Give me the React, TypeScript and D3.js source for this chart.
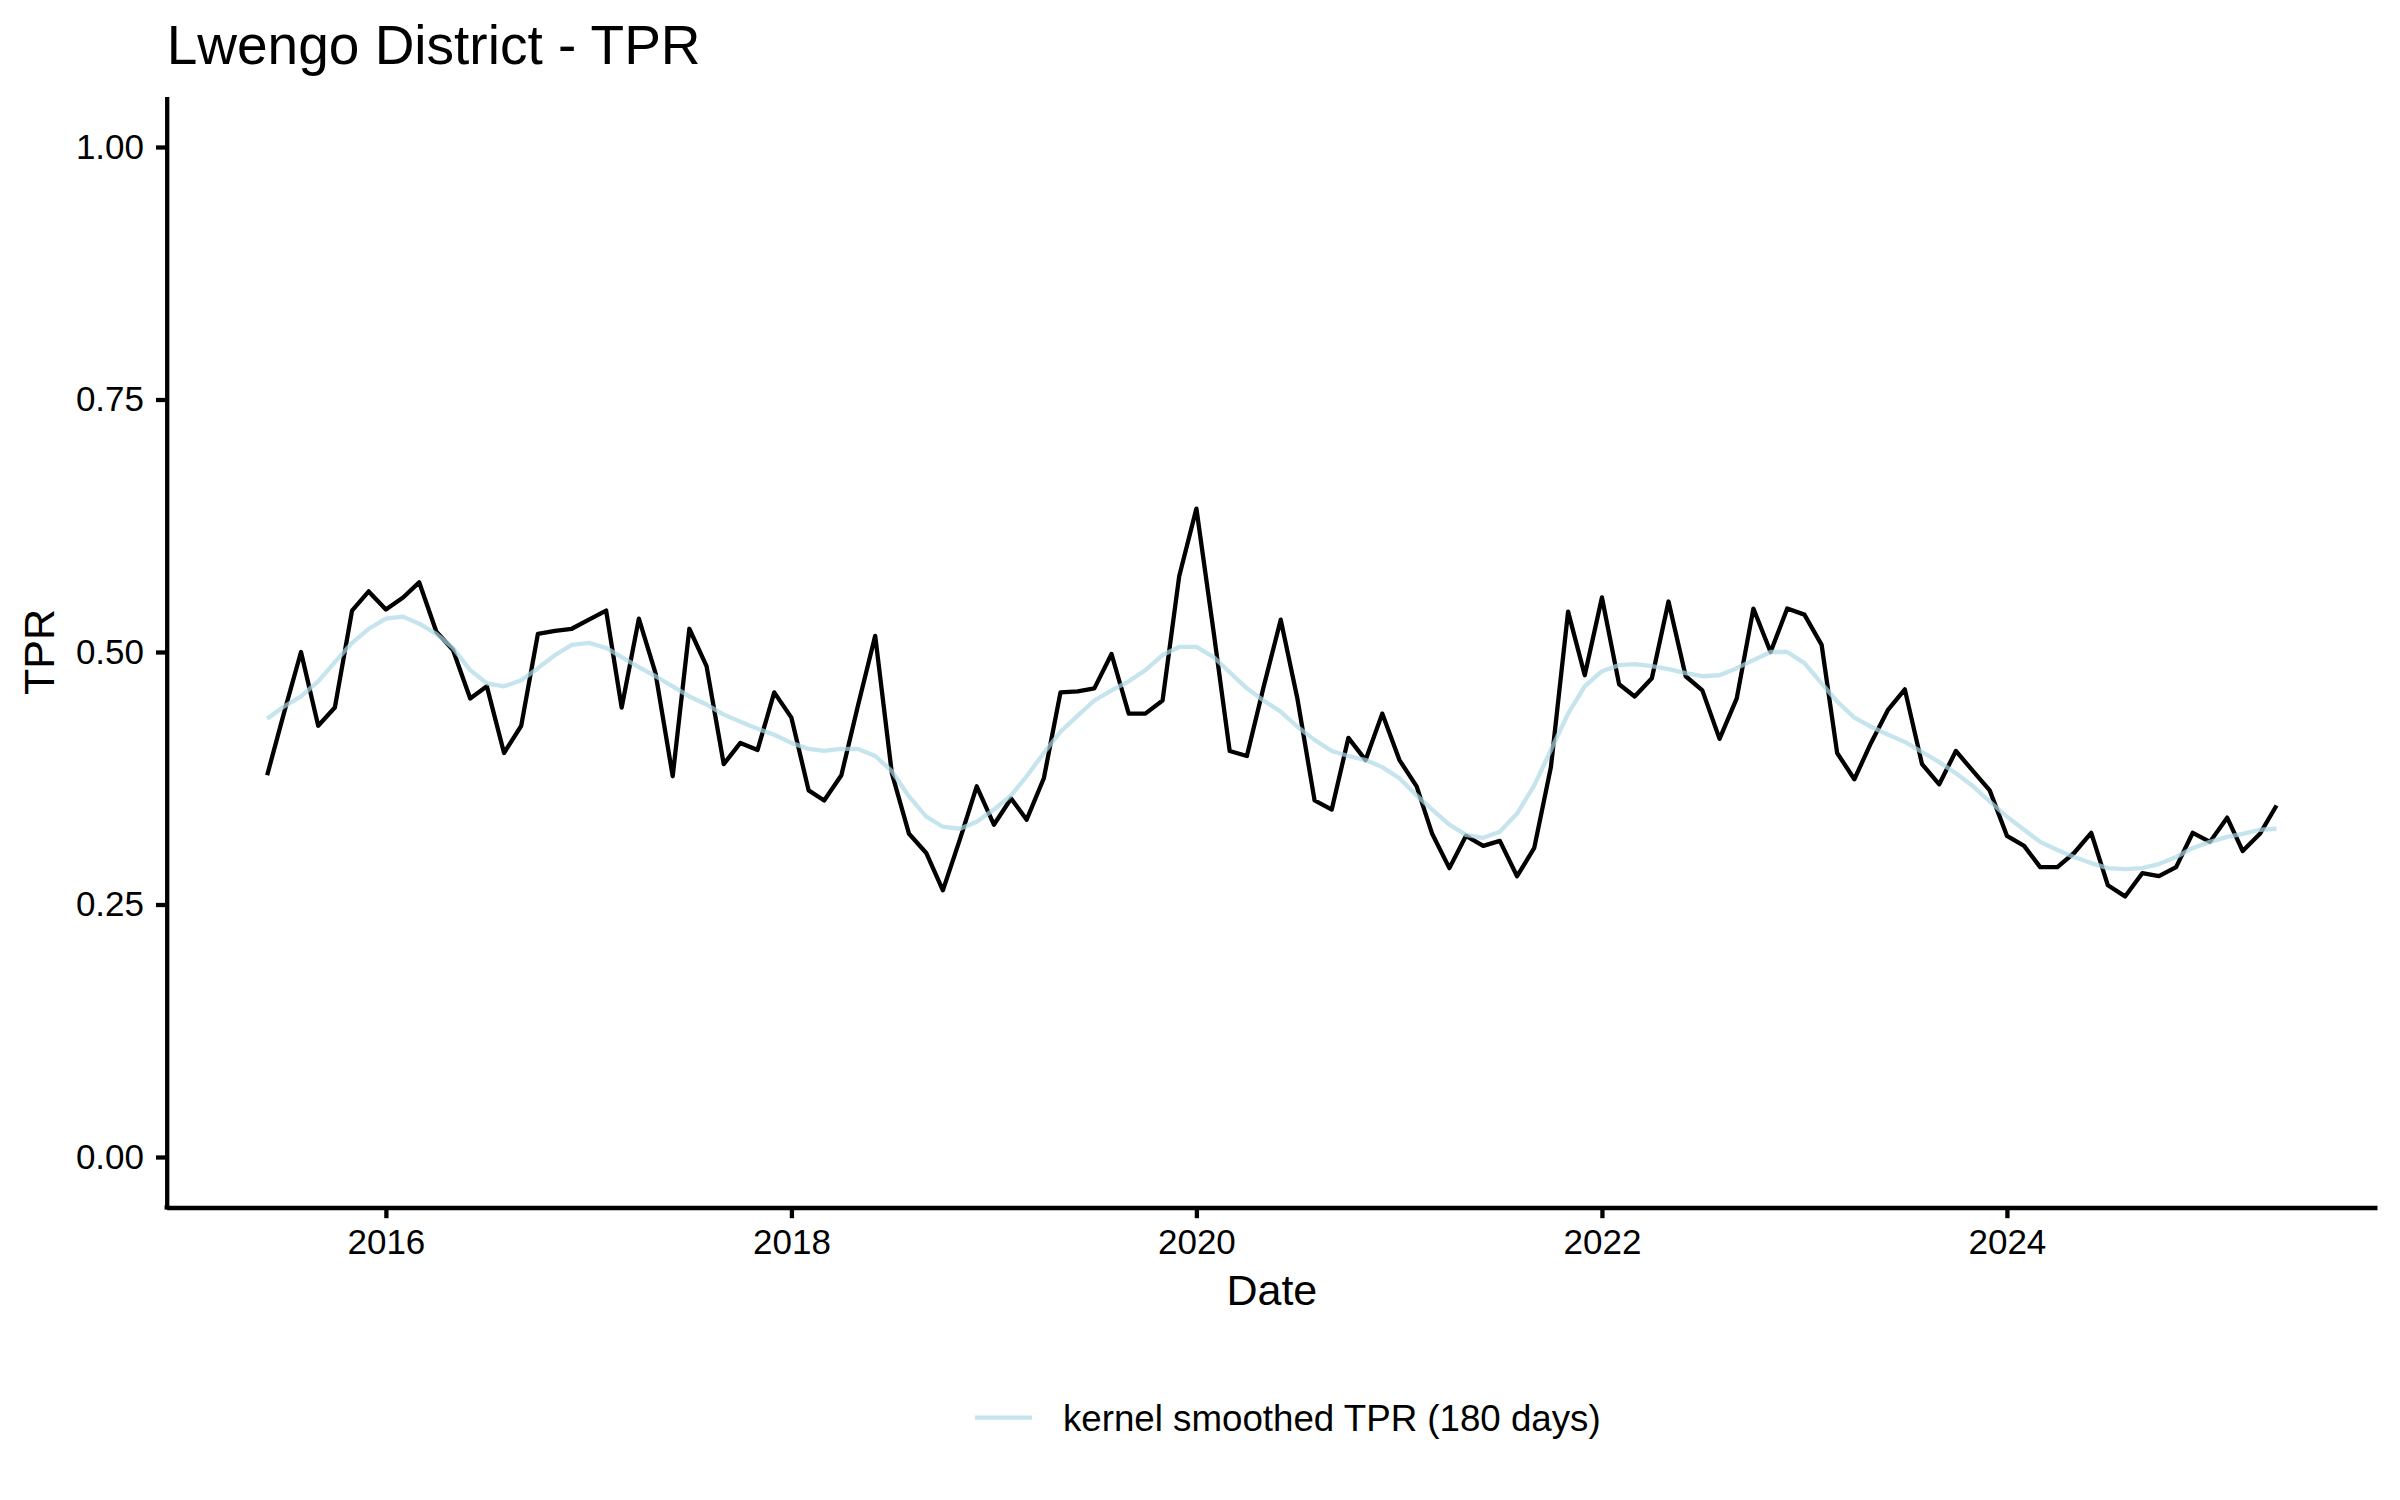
import { useEffect, useRef } from 'react'
import * as d3 from 'd3'

const WIDTH = 2400
const HEIGHT = 1500
const MARGIN = { top: 96.5, right: 23, bottom: 292.5, left: 166.7 }

const FONT = '"Liberation Sans", Arial, Helvetica, sans-serif'

// monthly observations, first month = June 2015
const START = { year: 2015, month: 5 }

const tpr = [
  // 2015 (Jun-Dec)
  0.378, 0.439, 0.5, 0.427, 0.445, 0.541, 0.56,
  // 2016
  0.542, 0.554, 0.569, 0.52, 0.502, 0.454, 0.466, 0.4, 0.427, 0.518, 0.521, 0.523,
  // 2017
  0.532, 0.541, 0.445, 0.533, 0.479, 0.377, 0.523, 0.486, 0.389, 0.41, 0.403, 0.46,
  // 2018
  0.435, 0.363, 0.353, 0.378, 0.447, 0.516, 0.38, 0.32, 0.301, 0.264, 0.315, 0.367,
  // 2019
  0.329, 0.355, 0.334, 0.375, 0.46, 0.461, 0.464, 0.498, 0.439, 0.439, 0.452, 0.575,
  // 2020
  0.642, 0.52, 0.402, 0.397, 0.465, 0.532, 0.454, 0.353, 0.344, 0.415, 0.393, 0.439,
  // 2021
  0.393, 0.367, 0.32, 0.286, 0.318, 0.308, 0.313, 0.278, 0.306, 0.386, 0.54, 0.477,
  // 2022
  0.554, 0.468, 0.456, 0.474, 0.55, 0.476, 0.462, 0.414, 0.454, 0.543, 0.5, 0.543,
  // 2023
  0.537, 0.507, 0.4, 0.374, 0.41, 0.443, 0.463, 0.389, 0.369, 0.402, 0.382, 0.363,
  // 2024
  0.318, 0.308, 0.287, 0.287, 0.301, 0.321, 0.269, 0.258, 0.281, 0.278, 0.287, 0.321,
  // 2025 (Jan-May)
  0.312, 0.336, 0.303, 0.32, 0.348,
]

const smoothed = [
  // 2015 (Jun-Dec)
  0.434, 0.446, 0.456, 0.471, 0.49, 0.509, 0.523,
  // 2016
  0.533, 0.535, 0.528, 0.518, 0.504, 0.482, 0.469, 0.466, 0.472, 0.484, 0.497, 0.507,
  // 2017
  0.509, 0.504, 0.495, 0.485, 0.476, 0.466, 0.456, 0.448, 0.438, 0.431, 0.424, 0.418,
  // 2018
  0.41, 0.404, 0.402, 0.404, 0.404, 0.397, 0.382, 0.357, 0.337, 0.327, 0.325, 0.332,
  // 2019
  0.344, 0.358, 0.377, 0.4, 0.421, 0.437, 0.452, 0.462, 0.471, 0.482, 0.497, 0.505,
  // 2020
  0.505, 0.495, 0.48, 0.464, 0.452, 0.441, 0.426, 0.413, 0.402, 0.397, 0.393, 0.386,
  // 2021
  0.375, 0.358, 0.344, 0.329, 0.319, 0.316, 0.322, 0.34, 0.368, 0.403, 0.439, 0.466,
  // 2022
  0.481, 0.487, 0.488, 0.486, 0.483, 0.479, 0.476, 0.477, 0.484, 0.492, 0.5, 0.5,
  // 2023
  0.489, 0.469, 0.451, 0.435, 0.426, 0.418, 0.411, 0.401, 0.391, 0.38, 0.367, 0.352,
  // 2024
  0.337, 0.324, 0.312, 0.304, 0.297, 0.291, 0.286, 0.285, 0.286, 0.29, 0.297, 0.306,
  // 2025 (Jan-May)
  0.312, 0.317, 0.32, 0.324, 0.325,
]

const xTickYears = [2016, 2018, 2020, 2022, 2024]
const yTicks = [0, 0.25, 0.5, 0.75, 1]

const TITLE = 'Lwengo District - TPR'
const X_LABEL = 'Date'
const Y_LABEL = 'TPR'
const LEGEND_LABEL = 'kernel smoothed TPR (180 days)'

const SMOOTH_COLOR = '#add8e6'

export default function App() {
  const svgRef = useRef<SVGSVGElement>(null)

  useEffect(() => {
    const svgEl = svgRef.current
    if (!svgEl) return

    const innerWidth = WIDTH - MARGIN.left - MARGIN.right
    const innerHeight = HEIGHT - MARGIN.top - MARGIN.bottom

    const start = new Date(Date.UTC(START.year, START.month, 1))
    const dates = tpr.map((_, i) => d3.utcMonth.offset(start, i))

    const t0 = +dates[0]
    const t1 = +dates[dates.length - 1]
    const pad = (t1 - t0) * 0.05

    const x = d3
      .scaleUtc()
      .domain([new Date(t0 - pad), new Date(t1 + pad)])
      .range([0, innerWidth])

    const y = d3.scaleLinear().domain([-0.05, 1.05]).range([innerHeight, 0])

    const svg = d3.select(svgEl)
    svg.selectAll('*').remove()

    svg
      .append('rect')
      .attr('width', WIDTH)
      .attr('height', HEIGHT)
      .attr('fill', '#fff')

    const g = svg
      .append('g')
      .attr('transform', `translate(${MARGIN.left},${MARGIN.top})`)

    const line = d3
      .line<number>()
      .x((_, i) => x(dates[i]))
      .y((v) => y(v))

    g.append('path')
      .datum(tpr)
      .attr('d', line)
      .attr('fill', 'none')
      .attr('stroke', '#000')
      .attr('stroke-width', 4.3)
      .attr('stroke-linejoin', 'round')

    g.append('path')
      .datum(smoothed)
      .attr('d', line)
      .attr('fill', 'none')
      .attr('stroke', SMOOTH_COLOR)
      .attr('stroke-opacity', 0.7)
      .attr('stroke-width', 4.3)
      .attr('stroke-linejoin', 'round')

    // axes
    const xAxis = d3
      .axisBottom(x)
      .tickValues(xTickYears.map((yr) => new Date(Date.UTC(yr, 0, 1))))
      .tickFormat((d) => d3.utcFormat('%Y')(d as Date))
      .tickSize(10.7)
      .tickSizeOuter(0)
      .tickPadding(11)

    const yAxis = d3
      .axisLeft(y)
      .tickValues(yTicks)
      .tickFormat(d3.format('.2f'))
      .tickSize(10.7)
      .tickSizeOuter(0)
      .tickPadding(12)

    const styleAxis = (sel: d3.Selection<SVGGElement, unknown, null, undefined>) => {
      sel.select('.domain').attr('stroke', '#000').attr('stroke-width', 4.3)
      sel.selectAll('.tick line').attr('stroke', '#000').attr('stroke-width', 4.3)
      sel
        .selectAll('.tick text')
        .attr('fill', '#000')
        .attr('font-size', 35)
        .attr('font-family', FONT)
    }

    g.append('g')
      .attr('transform', `translate(0,${innerHeight})`)
      .call(xAxis)
      .call(styleAxis)

    g.append('g').call(yAxis).call(styleAxis)

    // square corner where the axes meet
    g.append('rect')
      .attr('x', -2.15)
      .attr('y', innerHeight - 2.15)
      .attr('width', 4.3)
      .attr('height', 4.3)
      .attr('fill', '#000')

    // titles
    svg
      .append('text')
      .attr('x', MARGIN.left)
      .attr('y', 64)
      .attr('font-size', 55)
      .attr('font-family', FONT)
      .attr('fill', '#000')
      .text(TITLE)

    svg
      .append('text')
      .attr('x', MARGIN.left + innerWidth / 2)
      .attr('y', 1305)
      .attr('text-anchor', 'middle')
      .attr('font-size', 43)
      .attr('font-family', FONT)
      .attr('fill', '#000')
      .text(X_LABEL)

    svg
      .append('text')
      .attr('transform', `translate(54,${MARGIN.top + innerHeight / 2}) rotate(-90)`)
      .attr('text-anchor', 'middle')
      .attr('font-size', 43)
      .attr('font-family', FONT)
      .attr('fill', '#000')
      .text(Y_LABEL)

    // legend
    const legend = svg.append('g').attr('transform', 'translate(975,1417.7)')
    legend
      .append('line')
      .attr('x1', 0)
      .attr('x2', 57)
      .attr('y1', 0)
      .attr('y2', 0)
      .attr('stroke', SMOOTH_COLOR)
      .attr('stroke-opacity', 0.7)
      .attr('stroke-width', 4.3)
    legend
      .append('text')
      .attr('x', 88)
      .attr('y', 12.8)
      .attr('font-size', 36.7)
      .attr('font-family', FONT)
      .attr('fill', '#000')
      .text(LEGEND_LABEL)

    return () => {
      svg.selectAll('*').remove()
    }
  }, [])

  return (
    <div style={{ position: 'absolute', left: 0, top: 0 }}>
      <svg ref={svgRef} width={WIDTH} height={HEIGHT} style={{ display: 'block' }} />
    </div>
  )
}
